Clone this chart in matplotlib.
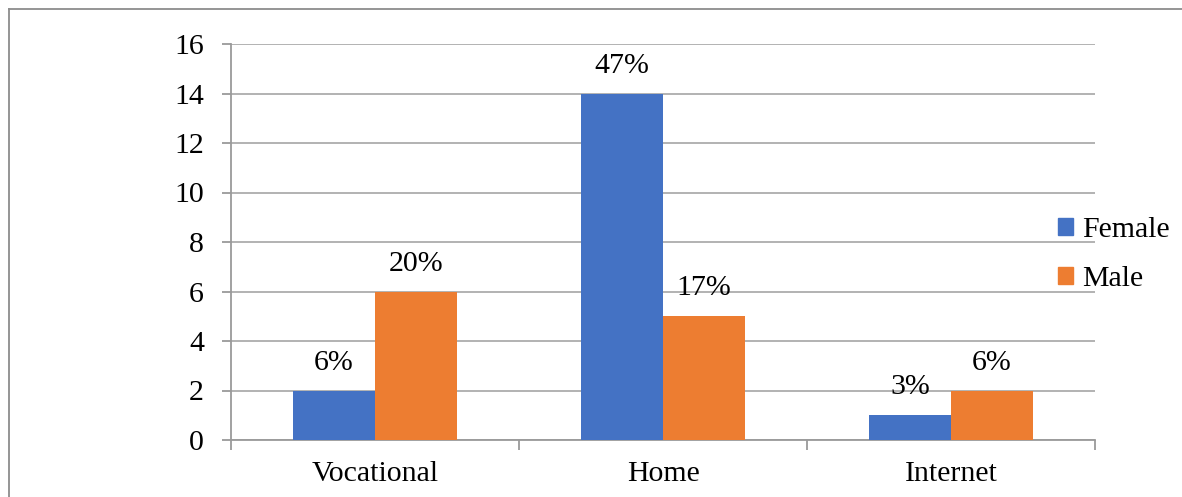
import matplotlib.pyplot as plt
import numpy as np
from matplotlib.lines import Line2D
from matplotlib.patches import Patch

categories = ["Vocational", "Home", "Internet"]
female = [2, 14, 1]
male = [6, 5, 2]
female_pct = ["6%", "47%", "3%"]
male_pct = ["20%", "17%", "6%"]
yticks = [0, 2, 4, 6, 8, 10, 12, 14, 16]

BLUE = "#4472C4"
ORANGE = "#ED7D31"
GRID = "#ADADAD"
AXIS = "#9A9A9A"

W, H = 1182, 497
FS = 21.5
plt.rcParams.update({"font.family": "Liberation Serif", "font.size": FS})

fig = plt.figure(figsize=(W / 100, H / 100), dpi=100)
fig.patch.set_facecolor("white")
ax = fig.add_axes([231 / W, (H - 440) / H, 864 / W, 396 / H])

x = np.arange(len(categories))
w = 82 / 288
b1 = ax.bar(x - w / 2, female, w, color=BLUE, label="Female", zorder=3)
b2 = ax.bar(x + w / 2, male, w, color=ORANGE, label="Male", zorder=3)

for bars, labels in ((b1, female_pct), (b2, male_pct)):
    for rect, lab in zip(bars, labels):
        ax.annotate(lab, (rect.get_x() + rect.get_width() / 2, rect.get_height()),
                    xytext=(0, 20), textcoords="offset points",
                    ha="center", va="center", fontsize=FS)

ax.set_xlim(-0.5, 2.5)
ax.set_ylim(0, 16)
ax.set_yticks(yticks)
ax.yaxis.grid(True, color=GRID, linewidth=1.3, zorder=0)
ax.set_axisbelow(True)

# category boundaries as major ticks, names on minor ticks
ax.set_xticks([-0.5, 0.5, 1.5, 2.5])
ax.set_xticklabels([])
ax.set_xticks(x, minor=True)
ax.set_xticklabels(categories, minor=True)
ax.tick_params(axis="x", which="major", length=7, width=1.3, color=AXIS, direction="out")
ax.tick_params(axis="x", which="minor", length=0, pad=15)
ax.tick_params(axis="y", length=6.5, width=1.3, color=AXIS, direction="out", pad=13)

for s in ("top", "right"):
    ax.spines[s].set_visible(False)
for s in ("left", "bottom"):
    ax.spines[s].set_color(AXIS)
    ax.spines[s].set_linewidth(1.3)

handles = [Patch(color=BLUE, label="Female"), Patch(color=ORANGE, label="Male")]
fig.legend(handles=handles, loc="center left", bbox_to_anchor=(1058 / W, 1 - 254.5 / H),
           frameon=False, borderpad=0, borderaxespad=0, handlelength=0.5,
           handleheight=0.5, handletextpad=0.3, labelspacing=0.75, fontsize=FS)

# outer chart border: only its left and top edges are inside the picture
bx, by = 8.5 / W, 1 - 8.5 / H
fig.add_artist(Line2D([bx, bx], [0, by], transform=fig.transFigure,
                      color="#8C8C8C", linewidth=1.3))
fig.add_artist(Line2D([bx, 1], [by, by], transform=fig.transFigure,
                      color="#8C8C8C", linewidth=1.3))

fig.savefig("out.png", dpi=100)
